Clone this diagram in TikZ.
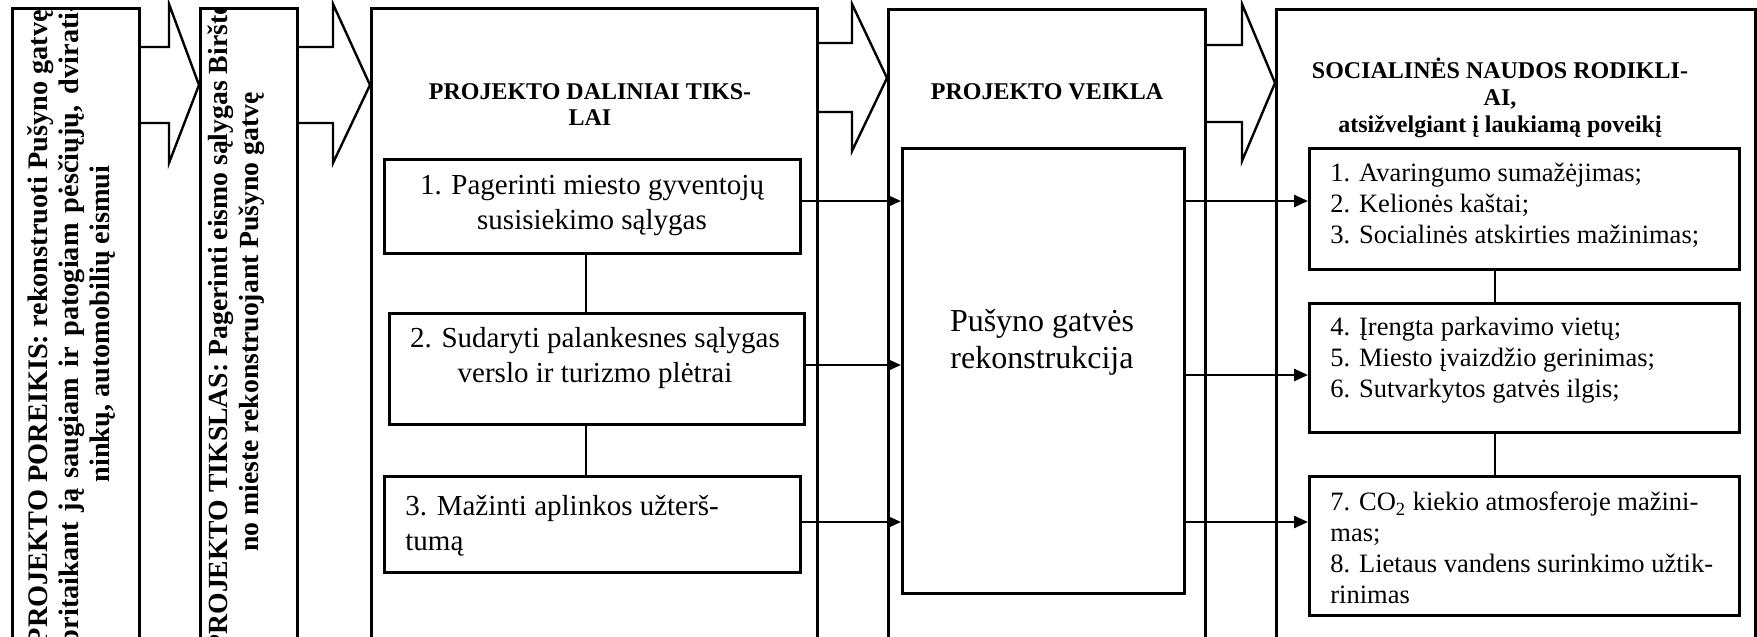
\documentclass[tikz,border=0pt]{standalone}
\usepackage{fontspec}
\setmainfont{Liberation Serif}
\usetikzlibrary{arrows.meta}

% a full-length rotated line whose word spaces stretch to the given length
\newcommand{\spreadline}[1]{\makebox[321pt][s]{#1}}

\begin{document}
\begin{tikzpicture}[x=0.5pt,y=-0.5pt,
  frame/.style={draw, line width=1.4pt, inner sep=0pt, anchor=north west},
  subbox/.style={draw, line width=1.25pt, inner sep=0pt, anchor=north west},
  link/.style={line width=1pt},
  flow/.style={line width=1.2pt, -{Triangle[length=7pt,width=6pt]}},
  blockarrow/.style={line width=1.2pt, line join=miter},
  vtext/.style={rotate=90, anchor=base, inner sep=0pt,
    font=\bfseries\fontsize{14.15}{15.5}\selectfont},
  heading/.style={align=center, inner sep=0pt,
    font=\bfseries\fontsize{12}{13}\selectfont},
  goaltext/.style={inner sep=0pt, font=\fontsize{14.5}{17.5}\selectfont},
  listtext/.style={align=left, anchor=west, inner sep=0pt,
    font=\fontsize{13.25}{15.5}\selectfont},
]
\useasboundingbox (0,0) rectangle (1757,637);

% outer columns
\node[frame, minimum width=63.5pt,  minimum height=315.25pt] (need)   at (11,7) {};
\node[frame, minimum width=48.5pt,  minimum height=315.25pt] (aim)    at (199,7) {};
\node[frame, minimum width=223pt,   minimum height=315.25pt] (goals)  at (370,7) {};
\node[frame, minimum width=158.5pt, minimum height=314.75pt] (work)   at (887,8) {};
\node[frame, minimum width=239.5pt, minimum height=314.75pt] (impact) at (1275,8) {};

% rotated texts, cut by their frames
\begin{scope}
  \clip (need.north west) rectangle (need.south east);
  \node[vtext] (needA) at (47,324) {\spreadline{PROJEKTO POREIKIS: rekonstruoti Pušyno gatvę,}};
  \node[vtext] (needB) at (78,324) {\spreadline{pritaikant ją saugiam ir patogiam pėsčiųjų, dvirati-}};
  \node[vtext] (needC) at (109,324) {ninkų, automobilių eismui};
\end{scope}
\begin{scope}
  \clip (aim.north west) rectangle (aim.south east);
  \node[vtext, font=\bfseries\fontsize{13.85}{15}\selectfont] (aimA) at (227,322)
    {PROJEKTO TIKSLAS: Pagerinti eismo sąlygas Biršto-};
  \node[vtext, font=\bfseries\fontsize{13.85}{15}\selectfont] (aimB) at (258,322)
    {no mieste rekonstruojant Pušyno gatvę};
\end{scope}

% block arrows between the columns
\draw[blockarrow] (need.east |- 0,47) -- (169,47) -- (169,4) -- (aim.west |- 0,85)
  -- (169,163) -- (169,123) -- (need.east |- 0,123);
\draw[blockarrow] (aim.east |- 0,47) -- (333,47) -- (333,4) -- (goals.west |- 0,85)
  -- (333,163) -- (333,123) -- (aim.east |- 0,123);
\draw[blockarrow] (goals.east |- 0,43) -- (852,43) -- (852,4) -- (work.west |- 0,78)
  -- (852,151) -- (852,112) -- (goals.east |- 0,112);
\draw[blockarrow] (work.east |- 0,45) -- (1242,45) -- (1242,4) -- (impact.west |- 0,83)
  -- (1242,161) -- (1242,122) -- (work.east |- 0,122);

% headings
\node[heading] (goalsT) at (590,105) {PROJEKTO DALINIAI TIKS-\\LAI};
\node[heading] (workT) at (1047,92) {PROJEKTO VEIKLA};
\node[heading, font=\bfseries\fontsize{12}{13.5}\selectfont] (impactT) at (1500,98)
  {SOCIALINĖS NAUDOS RODIKLI-\\AI,\\atsižvelgiant į laukiamą poveikį};

% partial goals
\node[subbox, minimum width=208pt,   minimum height=47pt]   (g1) at (383,158) {};
\node[subbox, minimum width=207.5pt, minimum height=55.5pt] (g2) at (388,312) {};
\node[subbox, minimum width=208pt,   minimum height=48pt]   (g3) at (383,475) {};
\node[goaltext, align=center] (g1t) at (592,206) {1. Pagerinti miesto gyventojų\\susisiekimo sąlygas};
\node[goaltext, align=center] (g2t) at (595,358) {2. Sudaryti palankesnes sąlygas\\verslo ir turizmo plėtrai};
\node[goaltext, align=left, anchor=west] (g3t) at (405,526) {3. Mažinti aplinkos užterš-\\tumą};
\coordinate (gx) at (586,0);
\draw[link] (g1.south -| gx) -- (g2.north -| gx);
\draw[link] (g2.south -| gx) -- (g3.north -| gx);

% activity
\node[subbox, minimum width=141pt, minimum height=222.5pt] (act) at (901,147) {};
\node[inner sep=0pt, align=center, font=\fontsize{16}{18.5}\selectfont] (actT) at (1042,342)
  {Pušyno gatvės\\rekonstrukcija};

% benefit indicators
\node[subbox, minimum width=215pt, minimum height=60.5pt] (r1) at (1308,147) {};
\node[subbox, minimum width=215pt, minimum height=64.5pt] (r2) at (1308,302) {};
\node[subbox, minimum width=215pt, minimum height=69.5pt] (r3) at (1308,475) {};
\node[listtext] (r1t) at (1330,205) {1. Avaringumo sumažėjimas;\\2. Kelionės kaštai;\\3. Socialinės atskirties mažinimas;};
\node[listtext] (r2t) at (1330,360) {4. Įrengta parkavimo vietų;\\5. Miesto įvaizdžio gerinimas;\\6. Sutvarkytos gatvės ilgis;};
\node[listtext] (r3t) at (1330,548) {7. CO\textsubscript{2} kiekio atmosferoje mažini-\\mas;\\8. Lietaus vandens surinkimo užtik-\\rinimas};
\coordinate (rx) at (1495,0);
\draw[link] (r1.south -| rx) -- (r2.north -| rx);
\draw[link] (r2.south -| rx) -- (r3.north -| rx);

% flows
\draw[flow] (g1.east |- 0,201) -- (act.west |- 0,201);
\draw[flow] (g2.east |- 0,365) -- (act.west |- 0,365);
\draw[flow] (g3.east |- 0,522) -- (act.west |- 0,522);
\draw[flow] (act.east |- 0,201) -- (r1.west |- 0,201);
\draw[flow] (act.east |- 0,375) -- (r2.west |- 0,375);
\draw[flow] (act.east |- 0,522) -- (r3.west |- 0,522);
\end{tikzpicture}
\end{document}
